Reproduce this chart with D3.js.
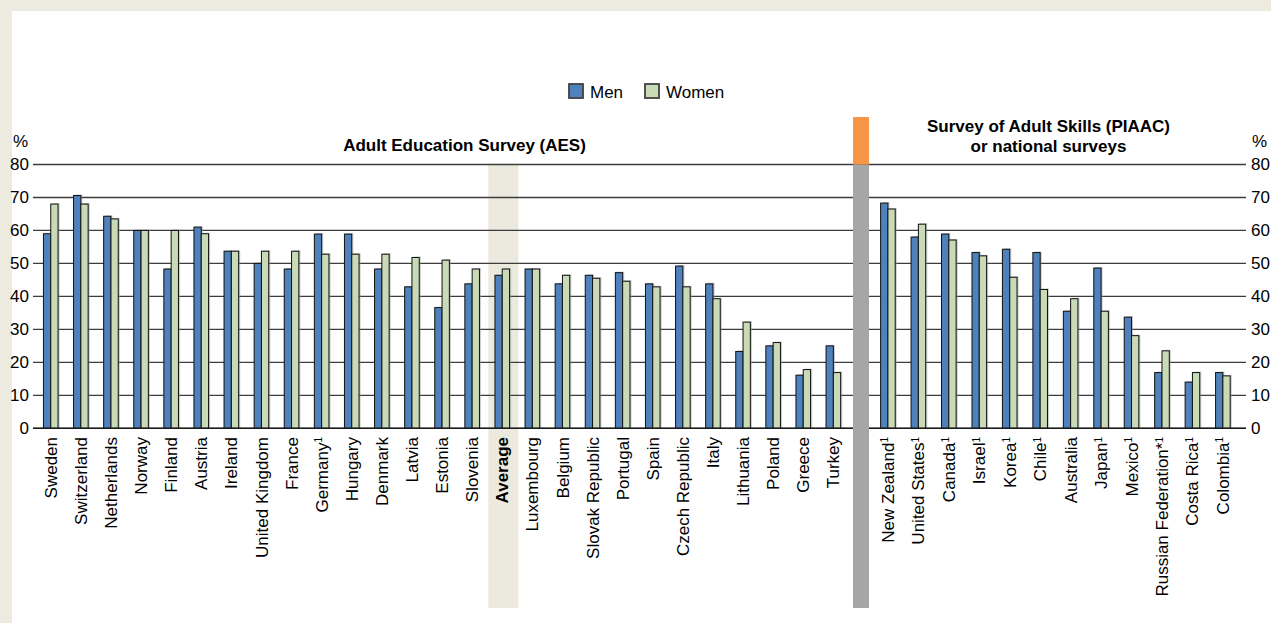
<!DOCTYPE html>
<html>
<head>
<meta charset="utf-8">
<script src="https://cdn.jsdelivr.net/npm/d3@7"></script>
<style>
  html, body { margin: 0; padding: 0; background: #EDEBE0; }
  svg { display: block; font-family: "Liberation Sans", Arial, sans-serif; }
</style>
</head>
<body>
<svg id="chart" width="1271" height="623"></svg>
<script>
// Participation in formal and/or non-formal education, by gender (%)
const aesCountries = ["Sweden", "Switzerland", "Netherlands", "Norway", "Finland", "Austria",
  "Ireland", "United Kingdom", "France", "Germany", "Hungary", "Denmark", "Latvia", "Estonia",
  "Slovenia", "Average", "Luxembourg", "Belgium", "Slovak Republic", "Portugal", "Spain",
  "Czech Republic", "Italy", "Lithuania", "Poland", "Greece", "Turkey"];
const aesNotes = ["", "", "", "", "", "", "", "", "", "1", "", "", "", "", "", "", "", "", "", "", "", "", "", "", "", "", ""];
const aesMen = [59, 70.6, 64.3, 60, 48.3, 61, 53.7, 50, 48.3, 58.9, 58.9, 48.3, 42.9, 36.6,
  43.8, 46.4, 48.3, 43.8, 46.4, 47.2, 43.8, 49.2, 43.8, 23.3, 25.0, 16.1, 25.0];
const aesWomen = [68, 68, 63.5, 60, 60, 59, 53.7, 53.7, 53.7, 52.8, 52.8, 52.8, 51.8, 51.0,
  48.3, 48.3, 48.3, 46.4, 45.5, 44.6, 42.9, 42.9, 39.3, 32.2, 26.0, 17.8, 16.9];

const piaacCountries = ["New Zealand", "United States", "Canada", "Israel", "Korea", "Chile",
  "Australia", "Japan", "Mexico", "Russian Federation*", "Costa Rica", "Colombia"];
const piaacNotes = ["1", "1", "1", "1", "1", "1", "", "1", "1", "1", "1", "1"];
const piaacMen = [68.3, 58.0, 58.9, 53.3, 54.3, 53.3, 35.5, 48.6, 33.7, 16.9, 14.0, 16.9];
const piaacWomen = [66.5, 61.9, 57.1, 52.3, 45.8, 42.1, 39.3, 35.5, 28.1, 23.5, 16.9, 15.9];

const yTicks = [0, 10, 20, 30, 40, 50, 60, 70, 80];
const seriesNames = ["Men", "Women"];
const highlight = "Average";

const colors = { Men: "#4F81BD", Women: "#C8DAB6" };

const svg = d3.select("#chart");
const W = 1271, H = 623;

// page frame
svg.append("rect").attr("width", W).attr("height", H).attr("fill", "#EDEBE0");
svg.append("rect").attr("x", 12).attr("y", 11).attr("width", W - 12).attr("height", H - 11).attr("fill", "#ffffff");

const y = d3.scaleLinear().domain([0, 80]).range([428.3, 164.5]);
const gridX0 = 33, gridX1 = 1246;

const xAes = d3.scaleBand().domain(aesCountries).range([36.8, 849.5]).padding(0);
const xPiaac = d3.scaleBand().domain(piaacCountries).range([873.8, 1239.2]).padding(0);
const xInner = d3.scaleBand().domain(seriesNames).range([-8.4, 6.2]).padding(0);

const sepX0 = 853, sepX1 = 869, bottomY = 608;

// shaded column behind the average
svg.append("rect")
  .attr("x", xAes(highlight))
  .attr("y", y(80))
  .attr("width", xAes.bandwidth())
  .attr("height", bottomY - y(80))
  .attr("fill", "#ECE9DE");

// gridlines
svg.append("g").selectAll("line").data(yTicks).join("line")
  .attr("x1", gridX0).attr("x2", gridX1)
  .attr("y1", d => y(d)).attr("y2", d => y(d))
  .attr("stroke", "#3c3c3c").attr("stroke-width", 1.3);

// y axes
const axisL = svg.append("g").attr("transform", `translate(${gridX0},0)`)
  .call(d3.axisLeft(y).tickValues(yTicks).tickSize(0).tickPadding(4));
const axisR = svg.append("g").attr("transform", `translate(${gridX1},0)`)
  .call(d3.axisRight(y).tickValues(yTicks).tickSize(0).tickPadding(5));
[axisL, axisR].forEach(g => {
  g.select(".domain").remove();
  g.selectAll("text").attr("font-size", 17).attr("fill", "#000")
    .attr("font-family", "'Liberation Sans', Arial, sans-serif");
});

svg.append("text").attr("x", 13).attr("y", 147).attr("font-size", 17).text("%");
svg.append("text").attr("x", 1252).attr("y", 147).attr("font-size", 17).text("%");

// bars
function drawBars(xScale, countries, men, women) {
  const rows = countries.map((c, i) => ({ c, Men: men[i], Women: women[i] }));
  const g = svg.append("g");
  const cells = g.selectAll("g").data(rows).join("g")
    .attr("transform", d => `translate(${xScale(d.c) + xScale.bandwidth() / 2},0)`);
  cells.selectAll("rect.shadow").data(d => seriesNames.map(k => ({ k, v: d[k] }))).join("rect")
    .attr("class", "shadow")
    .attr("x", d => xInner(d.k) + 1.6)
    .attr("y", d => y(d.v) - 1)
    .attr("width", xInner.bandwidth())
    .attr("height", d => y(0) - y(d.v) + 1)
    .attr("fill", "#9b9b9b").attr("opacity", 0.5);
  cells.selectAll("rect.bar").data(d => seriesNames.map(k => ({ k, v: d[k] }))).join("rect")
    .attr("class", "bar")
    .attr("x", d => xInner(d.k))
    .attr("y", d => y(d.v))
    .attr("width", xInner.bandwidth())
    .attr("height", d => y(0) - y(d.v))
    .attr("fill", d => colors[d.k])
    .attr("stroke", "#111").attr("stroke-width", 1);
}
drawBars(xAes, aesCountries, aesMen, aesWomen);
drawBars(xPiaac, piaacCountries, piaacMen, piaacWomen);

// zero line on top of the bars
svg.append("line").attr("x1", gridX0).attr("x2", gridX1)
  .attr("y1", y(0)).attr("y2", y(0)).attr("stroke", "#1a1a1a").attr("stroke-width", 1.4);

// separator between the two survey groups
svg.append("rect").attr("x", sepX0).attr("y", y(80)).attr("width", sepX1 - sepX0)
  .attr("height", bottomY - y(80)).attr("fill", "#A6A6A6");
svg.append("rect").attr("x", sepX0).attr("y", 117).attr("width", sepX1 - sepX0)
  .attr("height", y(80) - 117).attr("fill", "#F79646");

// category labels
function drawLabels(xScale, countries, notes) {
  const t = svg.append("g").selectAll("text").data(countries).join("text")
    .attr("transform", d => `translate(${xScale(d) + xScale.bandwidth() / 2 - 1},437) rotate(-90)`)
    .attr("text-anchor", "end")
    .attr("dy", "0.35em")
    .attr("font-size", 17)
    .attr("font-weight", d => d === highlight ? "bold" : "normal")
    .attr("fill", "#000");
  t.append("tspan").text(d => d);
  t.filter((d, i) => notes[i] !== "").append("tspan")
    .attr("font-size", 10).attr("dy", "-0.55em")
    .text((d, i) => notes[countries.indexOf(d)]);
}
drawLabels(xAes, aesCountries, aesNotes);
drawLabels(xPiaac, piaacCountries, piaacNotes);

// group headings
svg.append("text").attr("x", 464.5).attr("y", 151).attr("text-anchor", "middle")
  .attr("font-size", 17).attr("font-weight", "bold").text("Adult Education Survey (AES)");
const h2 = svg.append("text").attr("text-anchor", "middle").attr("font-size", 17).attr("font-weight", "bold");
h2.append("tspan").attr("x", 1048.5).attr("y", 132).text("Survey of Adult Skills (PIAAC)");
h2.append("tspan").attr("x", 1048.5).attr("y", 152).text("or national surveys");

// legend
const legend = svg.append("g");
const legendItems = [
  { k: "Men", x: 569 },
  { k: "Women", x: 645 }
];
legend.selectAll("rect").data(legendItems).join("rect")
  .attr("x", d => d.x).attr("y", 84).attr("width", 14).attr("height", 14)
  .attr("fill", d => colors[d.k]).attr("stroke", "#404040").attr("stroke-width", 1.8);
legend.selectAll("text").data(legendItems).join("text")
  .attr("x", d => d.x + 21).attr("y", 98)
  .attr("font-size", 17).attr("fill", "#000")
  .text(d => d.k);
</script>
</body>
</html>
